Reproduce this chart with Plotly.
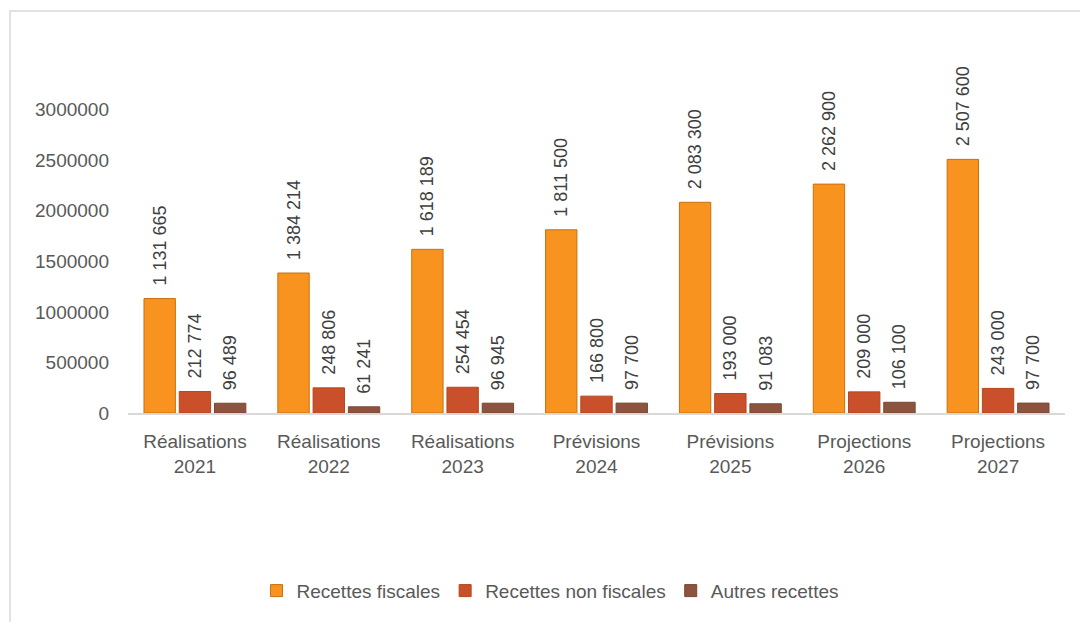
import plotly.graph_objects as go

categories = ["Réalisations<br>2021", "Réalisations<br>2022", "Réalisations<br>2023",
              "Prévisions<br>2024", "Prévisions<br>2025", "Projections<br>2026", "Projections<br>2027"]
recettes_fiscales = [1131665, 1384214, 1618189, 1811500, 2083300, 2262900, 2507600]
recettes_non_fiscales = [212774, 248806, 254454, 166800, 193000, 209000, 243000]
autres_recettes = [96489, 61241, 96945, 97700, 91083, 106100, 97700]
tick_values = [0, 500000, 1000000, 1500000, 2000000, 2500000, 3000000]
tick_labels = [str(v) for v in tick_values]

FONT = "Liberation Sans"
OFF = 8  # page body margin


def fmt(v):
    return "\u00a0\u00a0" + f"{v:,}".replace(",", " ")


series = [
    ("Recettes fiscales", recettes_fiscales, "#F7931E", "#C9700F"),
    ("Recettes non fiscales", recettes_non_fiscales, "#C9502A", "#B5461F"),
    ("Autres recettes", autres_recettes, "#8C543E", "#7A4734"),
]

fig = go.Figure()
for name, vals, col, lcol in series:
    fig.add_trace(go.Bar(
        x=categories, y=vals, name=name,
        marker=dict(color=col, line=dict(color=lcol, width=1)),
        text=[fmt(v) for v in vals], textposition="outside", textangle=-90,
        constraintext="none",
        textfont=dict(family=FONT, size=18, color="#404040"),
        cliponaxis=False,
    ))

W, H = 1088 - OFF, 622 - OFF
left, right, top, bottom = 128 - OFF, 1065 - OFF, 58.5 - OFF, 413 - OFF
pw, ph = right - left, bottom - top


def px(x):
    return (x - OFF - left) / pw


def py(y):
    return (bottom - (y - OFF)) / ph


fig.update_layout(
    width=W, height=H,
    margin=dict(l=left, r=W - right, t=top, b=H - bottom, autoexpand=False),
    paper_bgcolor="white", plot_bgcolor="white",
    barmode="group", bargap=0.21, bargroupgap=0.11,
    font=dict(family=FONT, size=19, color="#595959"),
    showlegend=True,
    legend=dict(orientation="h", x=px(550), xanchor="center", y=py(591), yanchor="middle",
                font=dict(family=FONT, size=19, color="#595959"),
                itemwidth=30, traceorder="normal"),
)
fig.update_xaxes(showgrid=False, showline=True, linecolor="#D9D9D9", linewidth=2,
                 ticks="", ticklabelstandoff=10,
                 tickfont=dict(family=FONT, size=19, color="#595959"))
fig.update_yaxes(range=[0, 3500000], showgrid=False, showline=False, zeroline=False,
                 tickvals=tick_values, ticktext=tick_labels, ticks="",
                 tickfont=dict(family=FONT, size=19, color="#595959"), ticklabelstandoff=18)

fig.add_shape(type="rect", xref="paper", yref="paper",
              x0=px(10), x1=px(1110), y0=py(640), y1=py(10.5),
              line=dict(color="#D9D9D9", width=1.5), fillcolor="rgba(0,0,0,0)", layer="below")

fig.write_html("out.html")
